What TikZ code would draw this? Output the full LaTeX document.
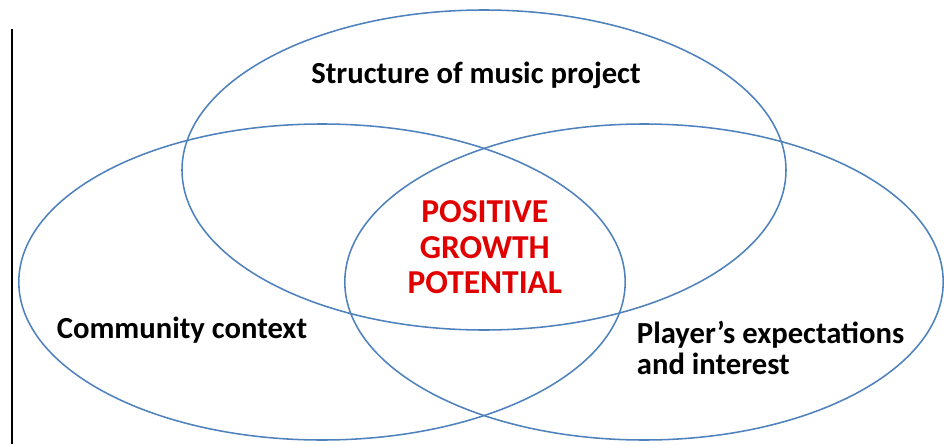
\documentclass[tikz,border=0pt]{standalone}
\usepackage{fontspec}
\setmainfont{Carlito}
\usetikzlibrary{positioning}
\definecolor{officeblue}{RGB}{79, 129, 189}
\definecolor{alertred}{RGB}{225, 0, 0}

\begin{document}
\begin{tikzpicture}[
    setring/.style={draw=officeblue, line width=1.1pt},
    setlabel/.style={font=\bfseries\fontsize{21.8}{22}\selectfont, text=black},
    corelabel/.style={font=\bfseries\fontsize{23.8}{25}\selectfont, text=alertred, align=center}
]
            % Frame
            \useasboundingbox                                                 (0.00, 0.00) rectangle (23.60, 11.10);
            % Margin rule
            \draw[black, line width=0.9pt]                                    (0.30, 0.00) -- (0.30, 10.38);
            % Three sets
            \draw[setring] (12.10, 6.85) ellipse (7.55 and 4.00);
            \draw[setring] ( 8.05, 4.05) ellipse (7.58 and 3.95);
            \draw[setring] (16.10, 4.05) ellipse (7.48 and 3.95);
            % Labels
            \node[setlabel] (project)   at (11.90, 9.22) {Structure of music project};
            \node[setlabel] (community) at ( 4.55, 2.85) {Community context};
            \node[setlabel, align=left, anchor=west] (player) at (15.80, 2.40)
                 {Player’s expectations\\and interest};
            \node[corelabel] (core)     at (12.12, 4.92) {POSITIVE\\GROWTH\\POTENTIAL};
\end{tikzpicture}
\end{document}
